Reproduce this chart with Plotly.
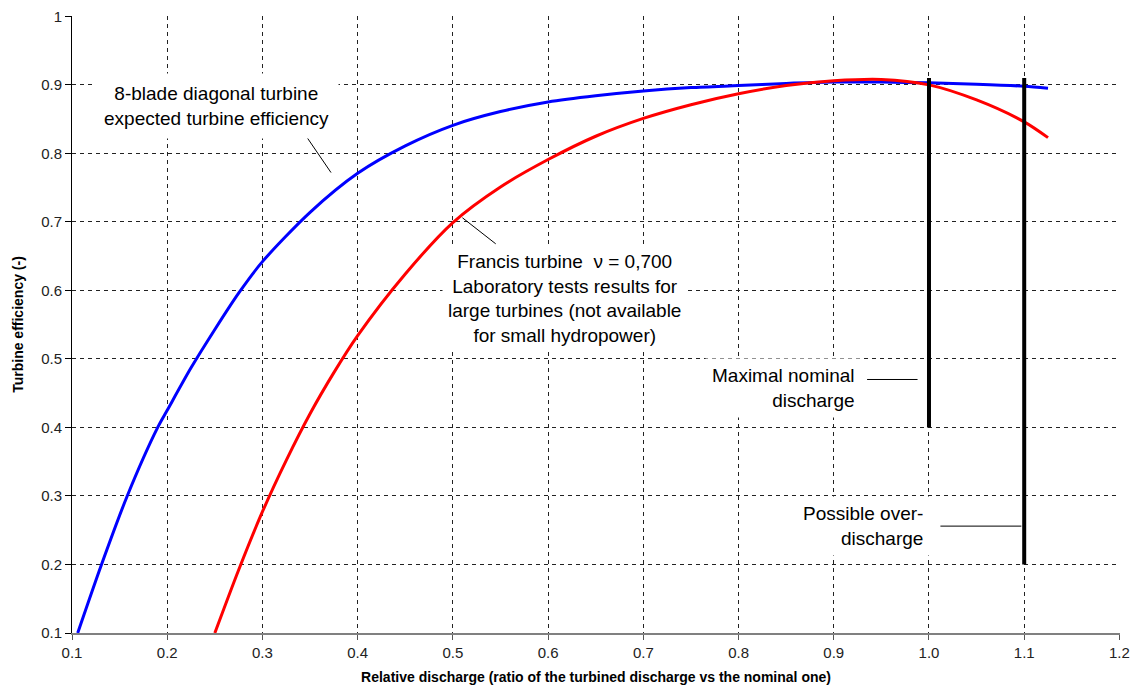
import plotly.graph_objects as go

# Blue: 8-blade diagonal turbine expected efficiency
blue_x = [0.106, 0.131, 0.158, 0.190, 0.200, 0.225, 0.250, 0.275, 0.300, 0.350, 0.400, 0.450,
          0.500, 0.550, 0.600, 0.650, 0.700, 0.750, 0.800, 0.850, 0.900, 0.950, 1.000,
          1.050, 1.100, 1.125]
blue_y = [0.100, 0.200, 0.300, 0.400, 0.425, 0.487, 0.543, 0.596, 0.642, 0.714, 0.771, 0.811,
          0.841, 0.861, 0.875, 0.884, 0.891, 0.896, 0.899, 0.902, 0.904, 0.904, 0.903,
          0.901, 0.898, 0.895]

# Red: Francis turbine laboratory tests
red_x = [0.250, 0.275, 0.300, 0.325, 0.350, 0.375, 0.400, 0.450, 0.500, 0.550, 0.600, 0.650,
         0.700, 0.750, 0.800, 0.850, 0.900, 0.950, 1.000, 1.050, 1.100, 1.125]
red_y = [0.100, 0.192, 0.277, 0.352, 0.420, 0.480, 0.534, 0.624, 0.699, 0.751, 0.791, 0.825,
         0.851, 0.871, 0.887, 0.899, 0.906, 0.908, 0.900, 0.878, 0.846, 0.823]

# Vertical markers
nominal_x = [1.0, 1.0]
nominal_y = [0.40, 0.91]
over_x = [1.1, 1.1]
over_y = [0.20, 0.91]

x_ticks = [0.1, 0.2, 0.3, 0.4, 0.5, 0.6, 0.7, 0.8, 0.9, 1.0, 1.1, 1.2]
x_ticktext = ["0.1", "0.2", "0.3", "0.4", "0.5", "0.6", "0.7", "0.8", "0.9", "1.0", "1.1", "1.2"]
y_ticks = [0.1, 0.2, 0.3, 0.4, 0.5, 0.6, 0.7, 0.8, 0.9, 1.0]
y_ticktext = ["0.1", "0.2", "0.3", "0.4", "0.5", "0.6", "0.7", "0.8", "0.9", "1"]

# Leader lines (data units)
leaders = [
    ([0.343, 0.372], [0.831, 0.772]),
    ([0.510, 0.545], [0.706, 0.668]),
    ([0.935, 0.988], [0.470, 0.470]),
    ([1.012, 1.097], [0.256, 0.256]),
]

FONT = "Liberation Sans, Arial, sans-serif"

fig = go.Figure()
fig.add_trace(go.Scatter(x=blue_x, y=blue_y, mode="lines", line=dict(color="#0000FF", width=3, shape="spline", smoothing=0.8),
                         hoverinfo="skip"))
fig.add_trace(go.Scatter(x=red_x, y=red_y, mode="lines", line=dict(color="#FF0000", width=3, shape="spline", smoothing=0.8),
                         hoverinfo="skip"))
fig.add_trace(go.Scatter(x=nominal_x, y=nominal_y, mode="lines", line=dict(color="black", width=4)))
fig.add_trace(go.Scatter(x=over_x, y=over_y, mode="lines", line=dict(color="black", width=4)))
for lx, ly in leaders:
    fig.add_trace(go.Scatter(x=lx, y=ly, mode="lines", line=dict(color="black", width=1)))

ann_font = dict(family=FONT, size=19, color="black")
fig.add_annotation(x=0.2514, y=0.8696, text="8-blade diagonal turbine<br>expected turbine efficiency",
                   showarrow=False, font=ann_font, bgcolor="white", borderpad=9, align="center")
fig.add_annotation(x=0.6176, y=0.5888,
                   text="Francis turbine \u00a0\u03bd = 0,700<br>Laboratory tests results for<br>large turbines (not available<br>for small hydropower)",
                   showarrow=False, font=ann_font, bgcolor="white", borderpad=5, align="center")
fig.add_annotation(x=0.9293, y=0.4575, text="Maximal nominal<br>discharge", xanchor="right",
                   showarrow=False, font=ann_font, bgcolor="white", borderpad=6, align="right")
fig.add_annotation(x=1.0006, y=0.256, text="Possible over-<br>discharge", xanchor="right",
                   showarrow=False, font=ann_font, bgcolor="white", borderpad=6, align="right")

fig.update_layout(
    width=1136, height=695,
    margin=dict(l=72, r=16, t=16, b=62),
    plot_bgcolor="white", paper_bgcolor="white",
    showlegend=False,
    font=dict(family=FONT, color="black"),
)
fig.update_xaxes(
    range=[0.1, 1.2006], tickvals=x_ticks, ticktext=x_ticktext,
    showgrid=True, gridcolor="#222", gridwidth=1, griddash="4px,4px",
    showline=True, linecolor="#808080", linewidth=2, zeroline=False,
    ticks="outside", ticklen=5, tickcolor="#555",
    tickfont=dict(family=FONT, size=15, color="#222"),
    ticklabeloverflow="allow",
    title=dict(text="<b>Relative discharge (ratio of the turbined discharge vs the nominal one)</b>",
               font=dict(family=FONT, size=14, color="black"), standoff=12),
    automargin=False,
)
fig.update_yaxes(
    range=[0.1, 1.0005], tickvals=y_ticks, ticktext=y_ticktext,
    showgrid=True, gridcolor="#222", gridwidth=1, griddash="4px,4px",
    showline=True, linecolor="black", linewidth=1, zeroline=False,
    ticks="outside", ticklen=6, tickcolor="black",
    tickfont=dict(family=FONT, size=15, color="#222"),
    ticklabeloverflow="allow",
    title=dict(text="<b>Turbine efficiency (-)</b>", font=dict(family=FONT, size=14, color="black"), standoff=14),
    automargin=False,
)

# Remove the browser's default 8px body margin so the figure fills the window exactly.
fig.write_html("out.html", config={"displayModeBar": False},
               post_script="document.body.style.margin='0';document.body.style.overflow='hidden';")
